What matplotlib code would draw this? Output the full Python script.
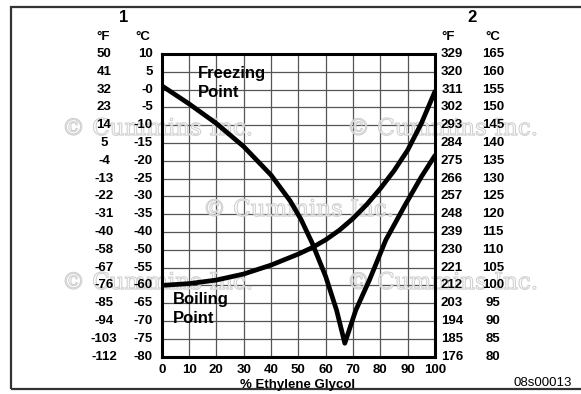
import numpy as np
import matplotlib
matplotlib.use("Agg")
import matplotlib.pyplot as plt
import matplotlib.patheffects as pe
from matplotlib import transforms
from matplotlib.patches import Rectangle

plt.rcParams['font.family'] = ['Liberation Sans', 'DejaVu Sans']

# escala izquierda (punto de congelación) y derecha (punto de ebullición)
left_f = [50, 41, 32, 23, 14, 5, -4, -13, -22, -31, -40, -58, -67, -76, -85, -94, -103, -112]
left_c = [10, 5, 0, -5, -10, -15, -20, -25, -30, -35, -40, -50, -55, -60, -65, -70, -75, -80]
left_c_txt = ["10", "5", "-0", "-5", "-10", "-15", "-20", "-25", "-30", "-35", "-40",
              "-50", "-55", "-60", "-65", "-70", "-75", "-80"]
right_f = [329, 320, 311, 302, 293, 284, 275, 266, 257, 248, 239, 230, 221, 212, 203, 194, 185, 176]
right_c = [165, 160, 155, 150, 145, 140, 135, 130, 125, 120, 115, 110, 105, 100, 95, 90, 85, 80]

glycol_ticks = [0, 10, 20, 30, 40, 50, 60, 70, 80, 90, 100]

# punto de ebullición (°C, escala derecha)
boil_pct = [0, 10, 20, 30, 40, 50, 55, 60, 65, 70, 75, 80, 85, 90, 95, 100]
boil_c = [100, 100.5, 101.5, 103.2, 105.7, 108.8, 110.6, 112.8, 115.5, 118.8, 122.7,
          127.2, 132.2, 138, 145.5, 154.5]

# punto de congelación (°C, escala izquierda)
freeze_pct = [0, 10, 20, 30, 40, 47, 51, 55, 60, 64, 67, 71, 76, 82, 89, 95, 100]
freeze_c = [1.1, -4, -9.5, -16, -24, -31.25, -36.5, -46, -57.5, -67, -76.25, -67, -58.5,
            -44.5, -32.5, -24.5, -18.5]


def left_to_axis(vals):
    # la escala izquierda no es lineal (falta -45), se pasa por el índice de fila
    idx = np.interp(vals, left_c[::-1], np.arange(len(left_c))[::-1])
    return np.interp(idx, np.arange(len(right_c)), right_c)


W, H = 581, 394
fig = plt.figure(figsize=(W / 100, H / 100), dpi=100)
ax = fig.add_axes([161.7 / W, 1 - 356.6 / H, (435 - 161.7) / W, (356.6 - 54) / H])
ax.set_xlim(0, 100)
ax.set_ylim(80, 165)

for x in glycol_ticks[1:-1]:
    ax.axvline(x, color='#555555', lw=0.9, zorder=1)
for y in right_c[1:-1]:
    ax.axhline(y, color='#555555', lw=0.9, zorder=1)

ax.plot(freeze_pct, left_to_axis(freeze_c), color='black', lw=3.4,
        solid_joinstyle='round', solid_capstyle='round', zorder=3)
ax.plot(boil_pct, boil_c, color='black', lw=3.4,
        solid_joinstyle='round', solid_capstyle='round', zorder=3)

for s in ax.spines.values():
    s.set_linewidth(2.2)
ax.set_yticks([])
ax.set_xticks(glycol_ticks)
ax.set_xticklabels([str(t) for t in glycol_ticks], fontsize=9.5, fontweight='bold')
ax.tick_params(axis='x', length=0, pad=5)

lbl = dict(fontsize=12, fontweight='bold', va='center', ha='left', zorder=4)
ax.text(13.3, 159.4, "Freezing", **lbl)
ax.text(13.3, 154.1, "Point", **lbl)
ax.text(4.1, 95.9, "Boiling", **lbl)
ax.text(4.1, 90.8, "Point", **lbl)

# columnas de grados a ambos lados
tr = transforms.blended_transform_factory(fig.transFigure, ax.transData)
tk = dict(fontsize=9.5, fontweight='bold', va='center', transform=tr)
for i, yv in enumerate(right_c):
    fig.text(104 / W, yv, str(left_f[i]), ha='center', **tk)
    fig.text(153 / W, yv, left_c_txt[i], ha='right', **tk)
    fig.text(452 / W, yv, str(right_f[i]), ha='center', **tk)
    fig.text(493 / W, yv, str(right_c[i]), ha='center', **tk)

hd = dict(fontsize=9.5, fontweight='bold', ha='center', va='center')
fig.text(103 / W, 1 - 37 / H, "°F", **hd)
fig.text(143 / W, 1 - 37 / H, "°C", **hd)
fig.text(448 / W, 1 - 37 / H, "°F", **hd)
fig.text(493 / W, 1 - 37 / H, "°C", **hd)
fig.text(124 / W, 1 - 17 / H, "1", fontsize=12, fontweight='bold', ha='center', va='center')
fig.text(472 / W, 1 - 17 / H, "2", fontsize=12, fontweight='bold', ha='center', va='center')

fig.text(298 / W, 1 - 385 / H, "% Ethylene Glycol", fontsize=9.5, fontweight='bold',
         ha='center', va='center')
fig.text(513 / W, 1 - 383 / H, "08s00013", fontsize=9.5, ha='left', va='center')

# marca de agua
wm = [(62, 129), (347, 129), (203, 210), (62, 283), (347, 283)]
for px, py in wm:
    ax.text(px / W, 1 - py / H, "© Cummins Inc.", transform=fig.transFigure,
            fontsize=16.5, family='DejaVu Serif', color=(1, 1, 1, 0.35),
            ha='left', va='center', clip_on=False, zorder=2,
            path_effects=[pe.withStroke(linewidth=0.8, foreground='#c8c8c8')])

# marco exterior
fig.patches.append(Rectangle((11 / W, 1 - 389 / H), 600 / W, (389 - 7) / H,
                             transform=fig.transFigure, fill=False,
                             edgecolor='#333333', lw=1.6))

fig.savefig("out.png", dpi=100)
